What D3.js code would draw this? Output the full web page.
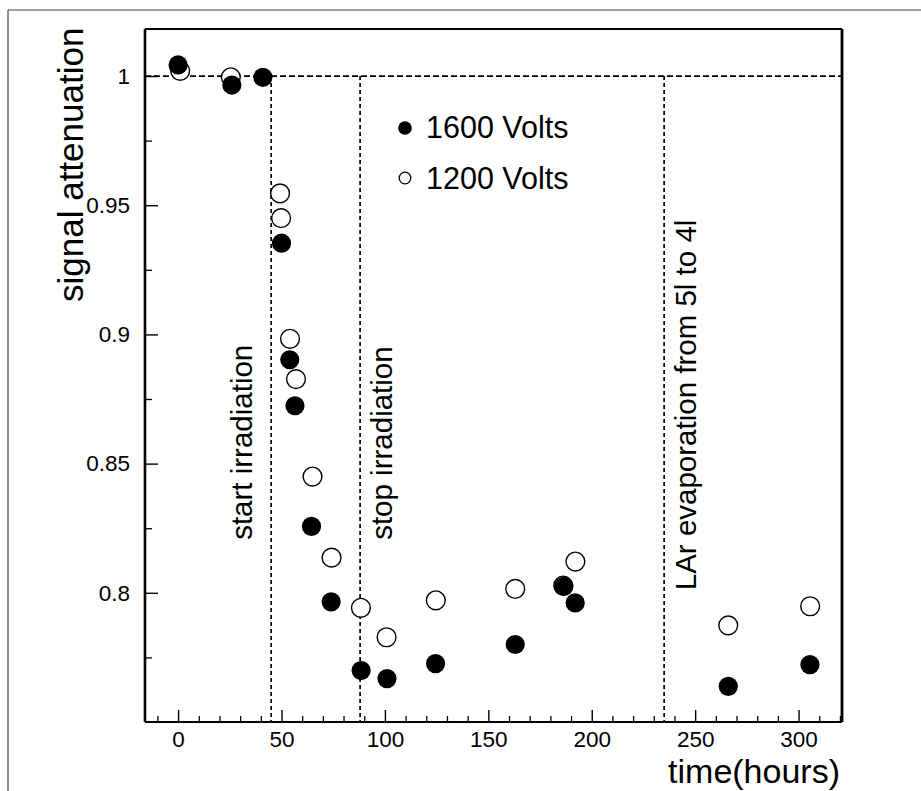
<!DOCTYPE html>
<html>
<head>
<meta charset="utf-8">
<script src="https://cdn.jsdelivr.net/npm/d3@7.9.0/dist/d3.min.js"></script>
<style>
  body { margin: 0; background: #fff; }
  svg { display: block; font-family: "Liberation Sans", Arial, Helvetica, sans-serif; }
  .dash { stroke: #000; stroke-width: 1.7; fill: none; }
</style>
</head>
<body>
<div id="chart"></div>
<script>
// data
const time1600 = [0, 26, 41, 50, 54, 56.5, 64.5, 74, 88.5, 101, 124.5, 163, 186.5, 192, 266, 305.5];
const att1600  = [1.0043, 0.9965, 0.9995, 0.9353, 0.8902, 0.8724, 0.8257, 0.7965, 0.7699, 0.7668, 0.7726, 0.7800, 0.8025, 0.7961, 0.7638, 0.7722];
const time1200 = [1, 25.5, 49.3, 49.8, 54.1, 57, 65, 74.2, 88.4, 100.8, 124.6, 163, 186.2, 192.1, 266, 305.6];
const att1200  = [1.0020, 0.9995, 0.9546, 0.9450, 0.8983, 0.8827, 0.8450, 0.8136, 0.7942, 0.7828, 0.7971, 0.8015, 0.8028, 0.8121, 0.7874, 0.7948];

const xTicks = [0, 50, 100, 150, 200, 250, 300];
const yTicks = [0.8, 0.85, 0.9, 0.95, 1];
const yTickLabels = ["0.8", "0.85", "0.9", "0.95", "1"];

// vertical dashed markers + their labels
const eventTimes  = [45, 88, 235];
const eventLabels = ["start irradiation", "stop irradiation", "LAr evaporation from 5l to 4l"];
const eventLabelY = [0.8205, 0.8205, 0.801];
const eventOffset = [-19, 32, 32];   // px from the dashed line to the text baseline

const seriesNames = ["1600 Volts", "1200 Volts"];

const W = 921, H = 791;
const plot = { left: 145, right: 842, top: 29, bottom: 722 };

const svg = d3.select("#chart").append("svg")
  .attr("width", W)
  .attr("height", H);

// thin page frame from the scan
svg.append("line").attr("x1", 8).attr("x2", W).attr("y1", 10).attr("y2", 10)
  .attr("stroke", "#444").attr("stroke-width", 1.2);
svg.append("line").attr("x1", 8).attr("x2", 8).attr("y1", 10).attr("y2", H)
  .attr("stroke", "#444").attr("stroke-width", 1.2);

const x = d3.scaleLinear().domain([-16, 321]).range([plot.left, plot.right]);
const y = d3.scaleLinear().domain([0.75, 1.0182]).range([plot.bottom, plot.top]);

// x axis: major + minor ticks pointing inward
const xMinor = d3.range(-10, 321, 10).filter(v => v % 50 !== 0);
svg.append("g")
  .attr("transform", `translate(0,${plot.bottom})`)
  .call(d3.axisBottom(x).tickValues(xMinor).tickSize(-6).tickFormat(""))
  .call(g => g.select(".domain").remove())
  .call(g => g.selectAll("line").attr("stroke-width", 1.3));

svg.append("g")
  .attr("transform", `translate(0,${plot.bottom})`)
  .call(d3.axisBottom(x).tickValues(xTicks).tickSize(-12).tickPadding(9))
  .call(g => g.select(".domain").remove())
  .call(g => g.selectAll("line").attr("stroke-width", 1.4))
  .call(g => g.selectAll("text")
    .attr("font-size", 22.5)
    .attr("font-family", "Liberation Sans, Arial, sans-serif")
    .attr("fill", "#000"));

// y axis
const yMinor = [0.775, 0.825, 0.875, 0.925, 0.975];
svg.append("g")
  .attr("transform", `translate(${plot.left},0)`)
  .call(d3.axisLeft(y).tickValues(yMinor).tickSize(-7).tickFormat(""))
  .call(g => g.select(".domain").remove())
  .call(g => g.selectAll("line").attr("stroke-width", 1.3));

svg.append("g")
  .attr("transform", `translate(${plot.left},0)`)
  .call(d3.axisLeft(y).tickValues(yTicks).tickSize(-13).tickPadding(15)
    .tickFormat((d, i) => yTickLabels[i]))
  .call(g => g.select(".domain").remove())
  .call(g => g.selectAll("line").attr("stroke-width", 1.4))
  .call(g => g.selectAll("text")
    .attr("font-size", 22.5)
    .attr("font-family", "Liberation Sans, Arial, sans-serif")
    .attr("fill", "#000"));

// plot frame
svg.append("line").attr("x1", plot.left).attr("x2", plot.right).attr("y1", plot.top).attr("y2", plot.top)
  .attr("stroke", "#000").attr("stroke-width", 1.8);
svg.append("line").attr("x1", plot.left).attr("x2", plot.right).attr("y1", plot.bottom).attr("y2", plot.bottom)
  .attr("stroke", "#000").attr("stroke-width", 2.2);
svg.append("line").attr("x1", plot.left).attr("x2", plot.left).attr("y1", plot.top).attr("y2", plot.bottom)
  .attr("stroke", "#000").attr("stroke-width", 2.6);
svg.append("line").attr("x1", plot.right).attr("x2", plot.right).attr("y1", plot.top).attr("y2", plot.bottom)
  .attr("stroke", "#000").attr("stroke-width", 2.8);

// reference lines
svg.append("line").attr("class", "dash")
  .attr("x1", plot.left).attr("x2", plot.right)
  .attr("y1", y(1)).attr("y2", y(1))
  .attr("stroke-dasharray", "6,3");

svg.selectAll("line.event")
  .data(eventTimes)
  .join("line")
  .attr("class", "dash event")
  .attr("x1", d => x(d)).attr("x2", d => x(d))
  .attr("y1", y(1)).attr("y2", plot.bottom)
  .attr("stroke-dasharray", "4,3");

svg.selectAll("text.event-label")
  .data(eventTimes)
  .join("text")
  .attr("class", "event-label")
  .attr("transform", (d, i) => `translate(${x(d) + eventOffset[i]},${y(eventLabelY[i])}) rotate(-90)`)
  .attr("font-size", 29.5)
  .text((d, i) => eventLabels[i]);

// points: open first, filled on top
const pts1200 = time1200.map((t, i) => ({ t, v: att1200[i] }));
const pts1600 = time1600.map((t, i) => ({ t, v: att1600[i] }));

svg.selectAll("circle.open")
  .data(pts1200)
  .join("circle")
  .attr("class", "open")
  .attr("cx", d => x(d.t)).attr("cy", d => y(d.v))
  .attr("r", 9.4)
  .attr("fill", "#fff").attr("stroke", "#000").attr("stroke-width", 1.4);

svg.selectAll("circle.filled")
  .data(pts1600)
  .join("circle")
  .attr("class", "filled")
  .attr("cx", d => x(d.t)).attr("cy", d => y(d.v))
  .attr("r", 9.6)
  .attr("fill", "#000");

// legend
const legend = svg.append("g");
legend.append("circle").attr("cx", 405).attr("cy", 128).attr("r", 6.8).attr("fill", "#000");
legend.append("circle").attr("cx", 405).attr("cy", 178).attr("r", 5.8)
  .attr("fill", "#fff").attr("stroke", "#000").attr("stroke-width", 1.3);
legend.selectAll("text")
  .data(seriesNames)
  .join("text")
  .attr("x", 426)
  .attr("y", (d, i) => 138 + i * 51)
  .attr("font-size", 30.5)
  .text(d => d);

// axis titles
svg.append("text")
  .attr("transform", "translate(83,302) rotate(-90)")
  .attr("font-size", 35)
  .text("signal attenuation");

svg.append("text")
  .attr("x", 840).attr("y", 783)
  .attr("text-anchor", "end")
  .attr("font-size", 34)
  .text("time(hours)");
</script>
</body>
</html>
